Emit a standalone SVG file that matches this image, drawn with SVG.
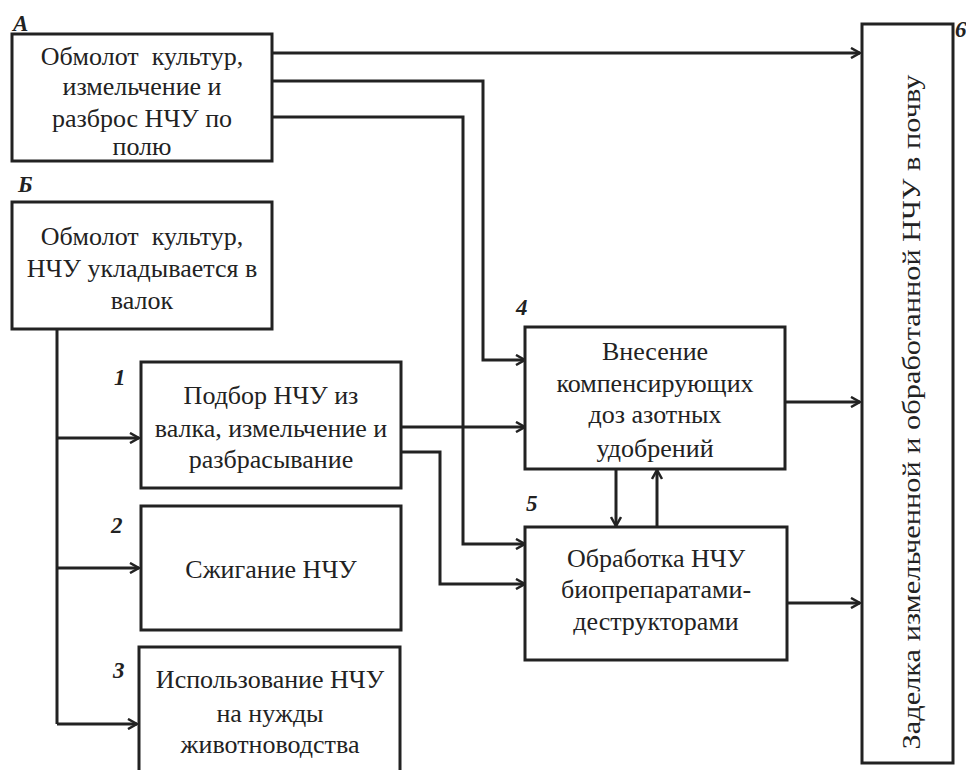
<svg xmlns="http://www.w3.org/2000/svg" width="966" height="770" viewBox="0 0 966 770">
<defs>
<marker id="ah" markerWidth="12" markerHeight="12" refX="10" refY="6" orient="auto" markerUnits="userSpaceOnUse">
<path d="M1,1 L10,6 L1,11" fill="none" stroke="#222" stroke-width="2.5"/>
</marker>
<style>
.box{fill:#fff;stroke:#222;stroke-width:3}
.t{font-family:"Liberation Serif","Times New Roman",serif;font-size:26px;fill:#222;text-anchor:middle;white-space:pre}
.r{font-family:"Liberation Serif","Times New Roman",serif;font-size:25px;fill:#222;text-anchor:middle}
.lb{font-family:"Liberation Serif","Times New Roman",serif;font-size:23px;font-style:italic;font-weight:bold;fill:#222}
.c{fill:none;stroke:#222;stroke-width:3;marker-end:url(#ah)}
.cn{fill:none;stroke:#222;stroke-width:3}
</style>
</defs>
<rect width="966" height="770" fill="#fff"/>
<g id="connectors">
<path class="c" d="M272,53 H860"/>
<path class="c" d="M272,81 H483 V360 H525"/>
<path class="c" d="M272,117 H463 V544 H525"/>
<path class="c" d="M401,427 H525"/>
<path class="c" d="M401,452 H440 V584 H525"/>
<path class="cn" d="M57,329 V724"/>
<path class="c" d="M57,438 H139"/>
<path class="c" d="M57,568 H139"/>
<path class="c" d="M57,724 H137"/>
<path class="c" d="M616,469 V526"/>
<path class="c" d="M657,527 V470"/>
<path class="c" d="M785,402 H860"/>
<path class="c" d="M787,603 H860"/>
</g>
<g id="nodeA">
<rect class="box" x="12" y="34" width="260" height="127"/>
<text class="lb" x="13" y="31">A</text>
<text class="t" x="142" y="65" xml:space="preserve">Обмолот  культур,</text>
<text class="t" x="142" y="95">измельчение и</text>
<text class="t" x="142" y="127">разброс НЧУ по</text>
<text class="t" x="142" y="155">полю</text>
</g>
<g id="nodeB">
<rect class="box" x="12" y="202" width="260" height="127"/>
<text class="lb" x="18" y="192">Б</text>
<text class="t" x="142" y="245" xml:space="preserve">Обмолот  культур,</text>
<text class="t" x="142" y="277">НЧУ укладывается в</text>
<text class="t" x="142" y="309">валок</text>
</g>
<g id="node1">
<rect class="box" x="141" y="362" width="260" height="126"/>
<text class="lb" x="114" y="385">1</text>
<text class="t" x="271" y="404">Подбор НЧУ из</text>
<text class="t" x="271" y="437">валка, измельчение и</text>
<text class="t" x="271" y="468">разбрасывание</text>
</g>
<g id="node2">
<rect class="box" x="141" y="506" width="260" height="124"/>
<text class="lb" x="111" y="533">2</text>
<text class="t" x="271" y="578">Сжигание НЧУ</text>
</g>
<g id="node3">
<rect class="box" x="139" y="647" width="261" height="130"/>
<text class="lb" x="113" y="678">3</text>
<text class="t" x="270" y="688">Использование НЧУ</text>
<text class="t" x="270" y="722">на нужды</text>
<text class="t" x="270" y="753">животноводства</text>
</g>
<g id="node4">
<rect class="box" x="525" y="327" width="260" height="142"/>
<text class="lb" x="516" y="315">4</text>
<text class="t" x="655" y="360">Внесение</text>
<text class="t" x="655" y="392">компенсирующих</text>
<text class="t" x="655" y="423">доз азотных</text>
<text class="t" x="655" y="457">удобрений</text>
</g>
<g id="node5">
<rect class="box" x="525" y="527" width="262" height="133"/>
<text class="lb" x="526" y="511">5</text>
<text class="t" x="656" y="567">Обработка НЧУ</text>
<text class="t" x="656" y="598">биопрепаратами-</text>
<text class="t" x="656" y="630">деструкторами</text>
</g>
<g id="node6">
<rect class="box" x="862" y="24" width="91" height="739"/>
<text class="lb" x="955" y="37">6</text>
<text class="r" transform="translate(920,412) rotate(-90)" textLength="675" lengthAdjust="spacingAndGlyphs">Заделка измельченной и обработанной НЧУ в почву</text>
</g>
</svg>
